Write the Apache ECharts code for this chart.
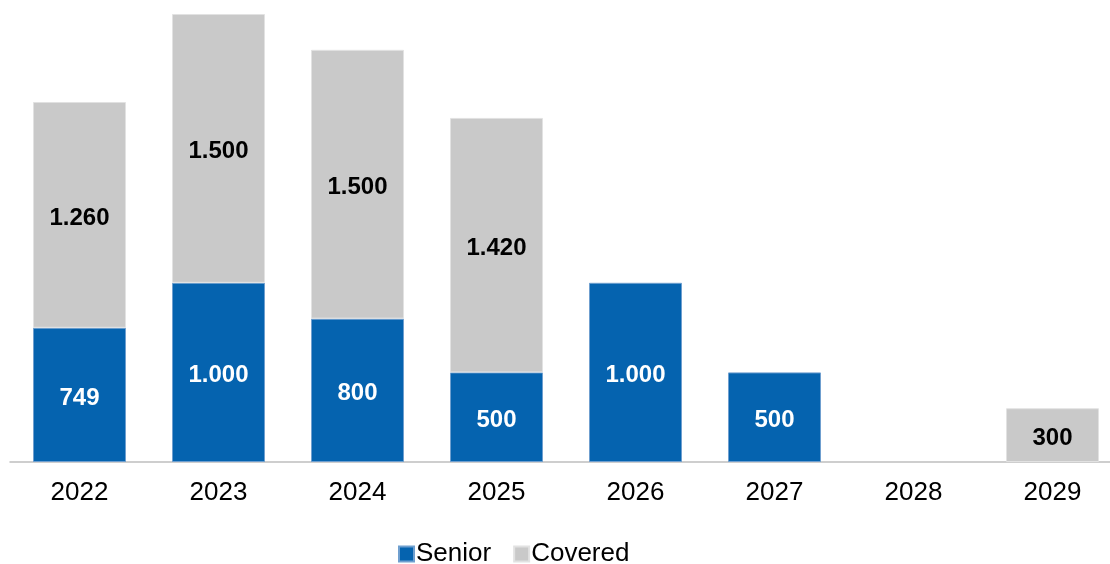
<!DOCTYPE html>
<html><head><meta charset="utf-8">
<script src="https://cdn.jsdelivr.net/npm/echarts@6/dist/echarts.min.js"></script>
<style>html,body{margin:0;padding:0;background:#fff;overflow:hidden}#c{width:1122px;height:564px}</style>
</head><body><div id="c"></div>
<script>
const categories = ['2022','2023','2024','2025','2026','2027','2028','2029'];
const senior = [749, 1000, 800, 500, 1000, 500, null, null];
const covered = [1260, 1500, 1500, 1420, null, null, null, 300];

function fmt(v){ return String(v).replace(/\B(?=(\d{3})+(?!\d))/g, '.'); }
const chart = echarts.init(document.getElementById('c'));
const lbl = (color) => ({show:true, position:'inside', offset:[0,3], color:color, fontFamily:'Liberation Sans, Arial', fontWeight:'bold', fontSize:24, formatter:p=>fmt(p.value)});
chart.setOption({
  animation:false,
  grid:{left:10, top:14, right:0, bottom:102, containLabel:false},
  legend:{top:536, left:393, itemWidth:15, itemHeight:15, itemGap:22, icon:'rect',
    textStyle:{fontFamily:'Liberation Sans, Arial', fontSize:26, color:'#000', padding:[0,0,0,-3]},
    data:['Senior','Covered']},
  xAxis:{type:'category', data:categories, axisTick:{show:false},
    axisLine:{lineStyle:{color:'#bfbfbf', width:1.5}},
    axisLabel:{fontFamily:'Liberation Sans, Arial', fontSize:26, color:'#000', margin:18}},
  yAxis:{type:'value', min:0, max:2500, show:false, splitLine:{show:false}},
  series:[
    {name:'Senior', type:'bar', stack:'a', data:senior, barWidth:93,
     itemStyle:{color:'#0563AF', borderColor:'#6f9fcf', borderWidth:1}, label:lbl('#fff')},
    {name:'Covered', type:'bar', stack:'a', data:covered, barWidth:93,
     itemStyle:{color:'#C9C9C9', borderColor:'#e2e2e2', borderWidth:1}, label:lbl('#000')}
  ]
});
</script></body></html>
